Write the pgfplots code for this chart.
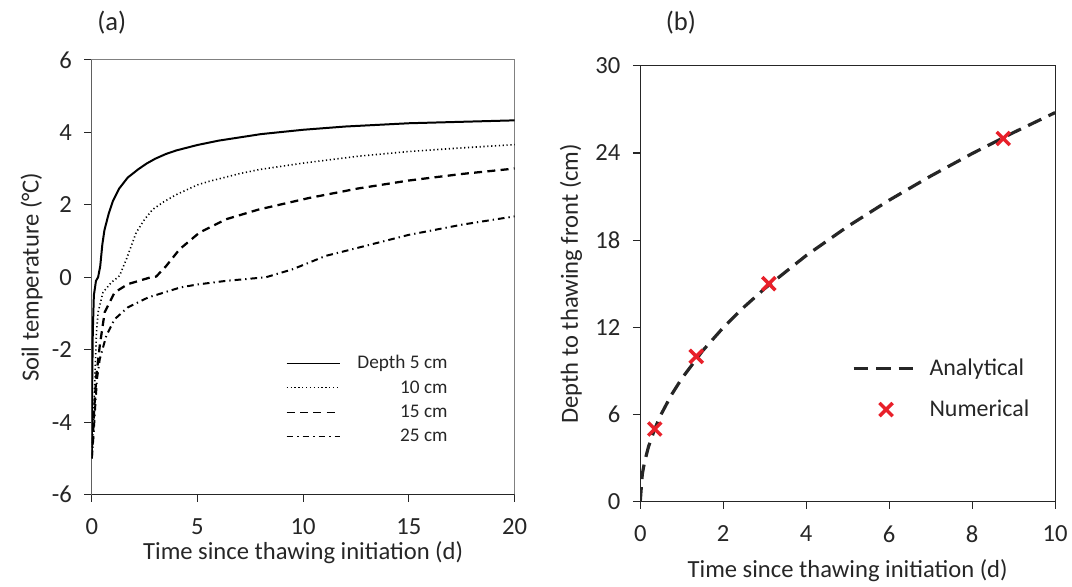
\documentclass[border=0pt]{standalone}
\usepackage{pgfplots}
\pgfplotsset{compat=1.18}
\usepackage{fontspec}
\setmainfont{Carlito}
\definecolor{txt}{HTML}{262626}
\definecolor{mred}{HTML}{E8202A}
\definecolor{framegray}{HTML}{808080}
\newcommand{\fs}{\fontsize{18.5}{22}\selectfont}
\newcommand{\fl}{\fontsize{14.5}{17.4}\selectfont}
\pgfplotsset{
  analeg/.style={legend image code/.code={\draw[##1] (0cm,0cm) -- (1.72cm,0cm);}},
  numleg/.style={legend image code/.code={\draw[##1] plot coordinates {(0.86cm,0cm)};}},
}
\begin{document}
\begin{tikzpicture}
\path (0,0) rectangle (804pt,435.75pt);
\pgfplotsset{
  every axis/.append style={
    scale only axis,
    tick style={txt, line width=0.9pt},
    tick align=outside,
    major tick length=5.5pt,
    xtick pos=bottom, ytick pos=left,
    /pgf/number format/assume math mode=true,
    tick label style={font=\fs, text=txt},
    xticklabel style={yshift=-9pt},
    yticklabel style={xshift=-6pt},
    label style={font=\fs, text=txt},
    legend style={font=\fl, text=txt, draw=none, fill=none},
  }
}
% ---------- (a)
\begin{axis}[
  at={(69pt,63.75pt)}, anchor=south west,
  width=318pt, height=327pt,
  axis line style={framegray, line width=0.9pt},
  xmin=0, xmax=20, ymin=-6, ymax=6,
  xtick={0,5,...,20}, ytick={-6,-4,...,6},
  xlabel={Time since thawing initiation (d)},
  ylabel={Soil temperature (°C)},
  xlabel style={yshift=2pt},
  ylabel style={yshift=0pt},
  legend cell align=right,
  legend style={at={(0.45,0.333)}, anchor=north west, row sep=3.4pt,
     /tikz/every odd column/.append style={column sep=11pt}},
  legend image code/.code={\draw[#1, line width=0.7pt] (0cm,0cm) -- (1.4cm,0cm);},
]
\addplot[black, line width=1.5pt] coordinates {
(0,-5) (0.02,-3) (0.05,-1.5) (0.1,-0.5) (0.2,-0.1) (0.3,0) (0.4,0.3) (0.5,0.9)
(0.6,1.3) (0.8,1.75) (1,2.1) (1.3,2.45) (1.7,2.75) (2.2,2.98) (2.6,3.14) (3,3.27)
(3.5,3.4) (4,3.5) (5,3.65) (6,3.77) (8,3.95) (10,4.07) (12,4.16) (15,4.25) (20,4.33)};
\addlegendentry{Depth 5 cm}
\addplot[black, line width=1.2pt, dash pattern=on 0.9pt off 2pt] coordinates {
(0,-5) (0.05,-4.3) (0.1,-3.7) (0.14,-2.9) (0.22,-1.55) (0.3,-0.97) (0.53,-0.42)
(0.93,-0.14) (1.24,0) (1.32,0.05) (1.64,0.5) (2.1,1.23) (2.5,1.6) (2.88,1.87) (3.4,2.08) (4,2.28)
(5,2.55) (5.57,2.65) (7,2.86) (7.9,2.97) (10,3.15) (12.6,3.34) (15,3.47) (17.5,3.57) (20,3.66)};
\addlegendentry{10 cm}
\addplot[black, line width=1.7pt, dash pattern=on 6pt off 4pt] coordinates {
(0,-5) (0.05,-4.5) (0.12,-3.6) (0.22,-2.7) (0.38,-1.89) (0.61,-0.97) (1.08,-0.42)
(1.71,-0.19) (2.8,0) (3.05,0.02) (3.52,0.31) (4.15,0.77) (5.09,1.23) (6.35,1.6)
(7.9,1.87) (10.3,2.19) (12.6,2.45) (15,2.67) (17.5,2.85) (20,3.0)};
\addlegendentry{15 cm}
\addplot[black, line width=1.5pt, dash pattern=on 5pt off 3pt on 1pt off 3pt] coordinates {
(0,-5) (0.08,-4.4) (0.15,-3.7) (0.25,-2.8) (0.38,-2.26) (0.69,-1.61) (1.08,-1.16)
(1.71,-0.83) (2.66,-0.56) (4.2,-0.28) (5,-0.2) (6.35,-0.1) (8.24,0) (9.5,0.22)
(11.07,0.59) (12.64,0.82) (15,1.17) (17.5,1.45) (20,1.68)};
\addlegendentry{25 cm}
\draw[txt, line width=0.9pt] (rel axis cs:0,1) -- (rel axis cs:0,0) -- (rel axis cs:1,0);
\end{axis}
\node[font=\fontsize{20}{24}\selectfont, text=txt] at (84pt,419pt) {(a)};
% ---------- (b)
\begin{axis}[
  at={(481.5pt,58.5pt)}, anchor=south west,
  width=312pt, height=327.75pt,
  axis line style={txt, line width=0.9pt},
  xmin=0, xmax=10, ymin=0, ymax=30,
  xtick={0,2,...,10}, ytick={0,6,...,30},
  xlabel={Time since thawing initiation (d)},
  ylabel={Depth to thawing front (cm)},
  xlabel style={yshift=-6pt},
  ylabel style={yshift=3pt},
  legend cell align=left,
  legend style={font=\fontsize{18}{21}\selectfont, at={(0.5,0.34)}, anchor=north west, row sep=13pt,
     /tikz/every odd column/.append style={column sep=5pt}},
]
\addplot[black!85, line width=2.4pt, dash pattern=on 11pt off 6pt, analeg] coordinates {
(0,0) (0.05,1.89) (0.1,2.68) (0.2,3.79) (0.35,5.01) (0.5,5.99) (0.75,7.34)
(1,8.47) (1.5,10.37) (2,11.98) (2.5,13.39) (3,14.67) (4,16.94) (5,18.94)
(6,20.75) (7,22.41) (8,23.96) (9,25.41) (10,26.78)};
\addlegendentry{Analytical}
\addplot[only marks, mark=x, mark size=7pt, mred, line width=2.6pt, numleg] coordinates {
(0.35,5) (1.35,10) (3.1,15) (8.75,25)};
\addlegendentry{Numerical}
\end{axis}
\node[font=\fontsize{20}{24}\selectfont, text=txt] at (512pt,419pt) {(b)};
\end{tikzpicture}
\end{document}
